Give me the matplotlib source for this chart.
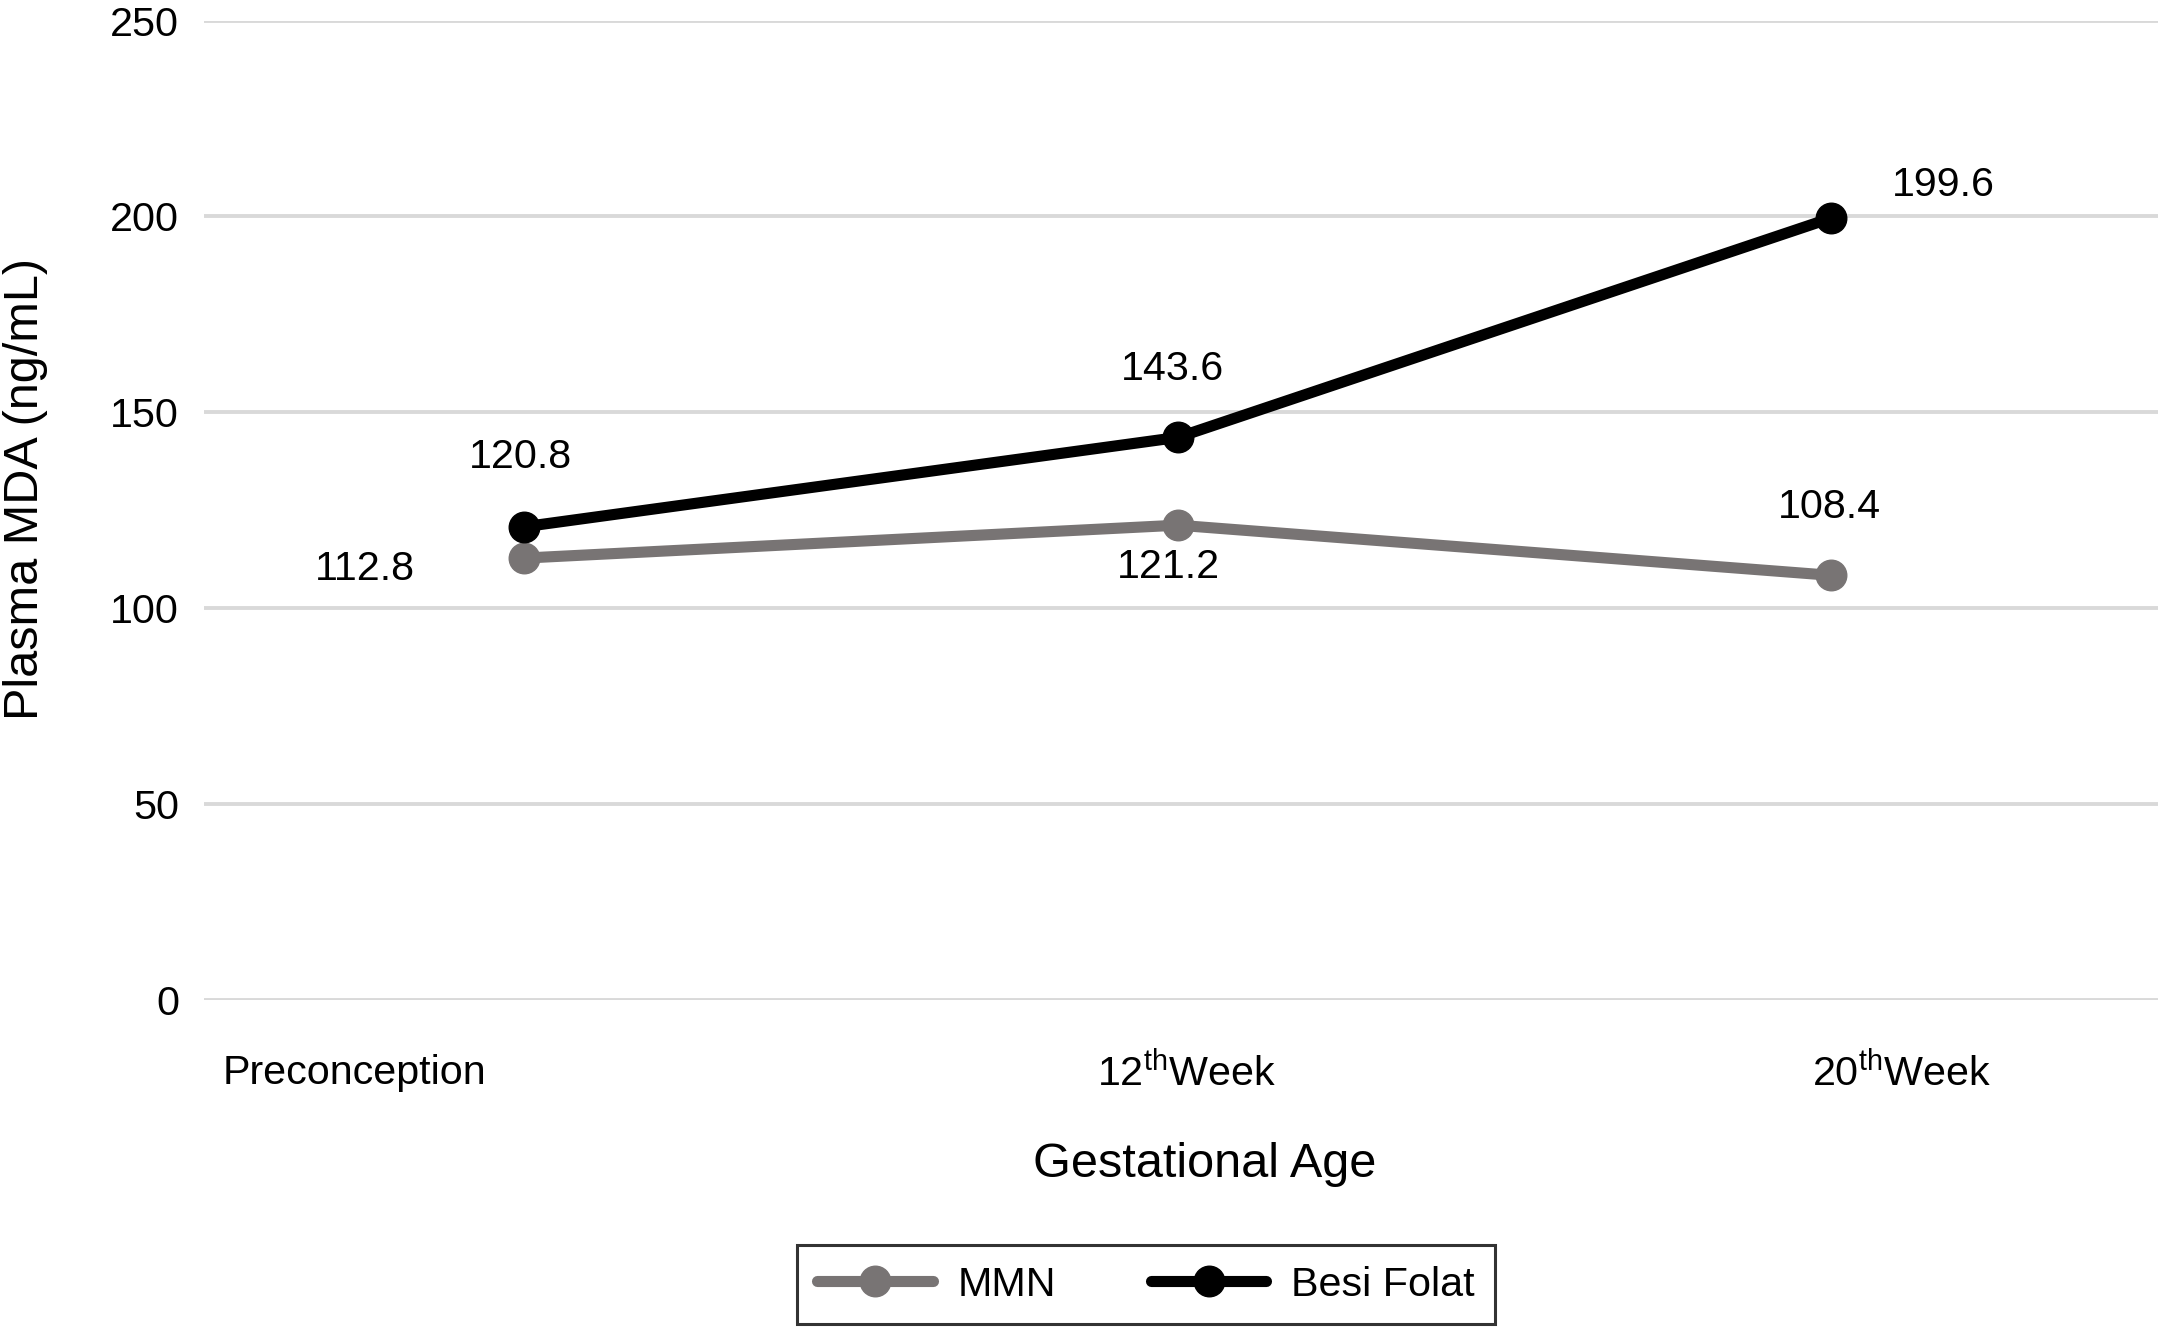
import matplotlib
matplotlib.use("Agg")
import matplotlib.pyplot as plt

plt.rcParams['font.family'] = ['Liberation Sans', 'DejaVu Sans']
plt.rcParams['mathtext.fontset'] = 'custom'
plt.rcParams['mathtext.rm'] = 'Liberation Sans'
plt.rcParams['mathtext.default'] = 'regular'

categories = ["Preconception", "12$^{th}$Week", "20$^{th}$Week"]
mmn = [112.8, 121.2, 108.4]
besi_folat = [120.8, 143.6, 199.6]
yticks = [0, 50, 100, 150, 200, 250]

fs = 29.7

fig = plt.figure(figsize=(21.58, 13.27), dpi=100)
ax = fig.add_axes([0.0945, 0.2464, 0.9055, 0.7381])

x = list(range(len(categories)))
gray = '#787474'
ax.plot(x, mmn, color=gray, lw=8, marker='o', ms=22, label='MMN',
        solid_capstyle='round', zorder=3)
ax.plot(x, besi_folat, color='black', lw=8, marker='o', ms=22, label='Besi Folat',
        solid_capstyle='round', zorder=4)

ax.set_xlim(-0.49, 2.5)
ax.set_ylim(0, 250)
ax.set_yticks(yticks)
ax.set_yticklabels([str(t) for t in yticks], fontsize=fs)
ax.set_xticks([])
ax.tick_params(axis='y', length=0, pad=18)
ax.grid(axis='y', color='#d9d9d9', lw=2.8)
ax.set_axisbelow(True)
for s in ax.spines.values():
    s.set_visible(False)

# category labels
label_x = [-0.26, 1.013, 2.107]
for lx, lab in zip(label_x, categories):
    ax.text(lx, -18.5, lab, ha='center', va='center', fontsize=fs)

ax.text(1.042, -42, "Gestational Age", ha='center', va='center', fontsize=35)
ax.set_ylabel("Plasma MDA (ng/mL)", fontsize=35)
ax.yaxis.set_label_coords(-0.080, 0.522)

mmn_off = [(-115, -8), (-7, -30), (-1, 49)]
bf_off = [(-3, 50), (-4, 49), (81, 24)]
for xi, v, off in zip(x, mmn, mmn_off):
    ax.annotate(f"{v:.1f}", (xi, v), xytext=off, textcoords='offset points',
                ha='center', va='center', fontsize=fs)
for xi, v, off in zip(x, besi_folat, bf_off):
    ax.annotate(f"{v:.1f}", (xi, v), xytext=off, textcoords='offset points',
                ha='center', va='center', fontsize=fs)

leg = fig.legend(loc='lower center', bbox_to_anchor=(0.531, 0.002), ncol=2,
                 fontsize=fs, frameon=True, fancybox=False, handlelength=2.8,
                 columnspacing=2.3, handletextpad=0.6, borderpad=0.5,
                 borderaxespad=0.0, markerscale=1.0)
leg.get_frame().set_edgecolor('black')
leg.get_frame().set_linewidth(2.2)

fig.savefig("out.png", dpi=100)
